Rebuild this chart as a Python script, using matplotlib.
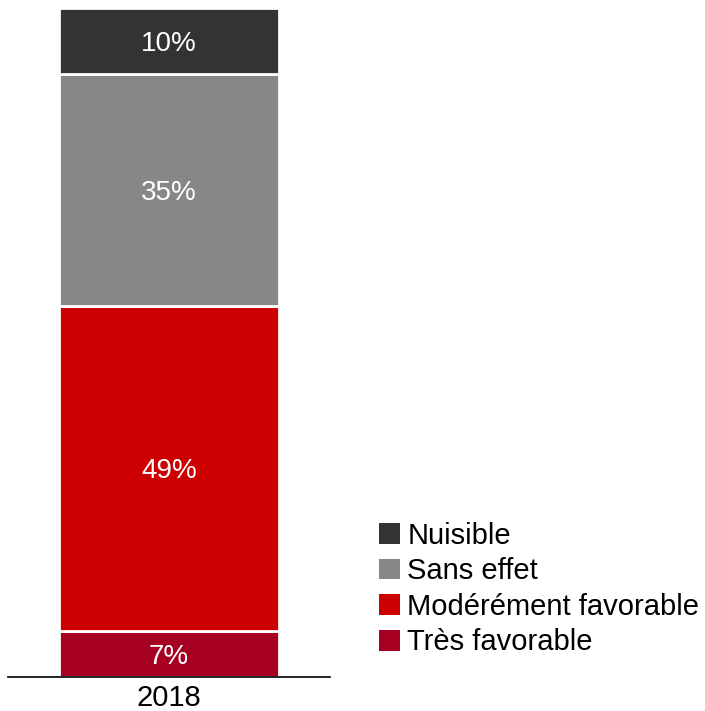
import matplotlib.pyplot as plt
from matplotlib.patches import Patch

plt.rcParams["font.family"] = ["Liberation Sans", "DejaVu Sans"]

year = "2018"
categories = ["Très favorable", "Modérément favorable", "Sans effet", "Nuisible"]
shares = [7, 49, 35, 10]
colors = ["#a50021", "#cc0000", "#878787", "#333333"]


def generate_stacked_bar(output_path: str = "out.png") -> None:
    fig = plt.figure(figsize=(7.05, 7.11), dpi=100)
    W, H = 705, 711
    ax = fig.add_axes([8 / W, (H - 677) / H, 322 / W, 669 / H])

    bottom = 0
    for label, value, color in zip(categories, shares, colors):
        ax.bar([0], [value], bottom=bottom, width=0.686, color=color,
               edgecolor="white", linewidth=2, label=label)
        ax.text(0, bottom + value / 2, f"{value}%", ha="center",
                va="center_baseline", color="white", fontsize=20)
        bottom += value

    ax.set_xlim(-0.5, 0.5)
    ax.set_ylim(0, sum(shares))
    ax.set_xticks([0])
    ax.set_xticklabels([year], fontsize=21)
    ax.tick_params(axis="x", length=0, pad=5)
    ax.set_yticks([])
    for side in ["top", "right", "left"]:
        ax.spines[side].set_visible(False)
    ax.spines["bottom"].set_linewidth(1.2)

    handles = [Patch(facecolor=c, edgecolor="none", label=l)
               for l, c in zip(categories, colors)][::-1]
    fig.legend(handles=handles, loc="center left",
               bbox_to_anchor=(379 / W, 1 - 589 / H), frameon=False,
               fontsize=21, handlelength=0.72, handleheight=0.72,
               handletextpad=0.25, labelspacing=0.26, borderpad=0,
               borderaxespad=0)

    fig.savefig(output_path, dpi=100)


if __name__ == "__main__":
    generate_stacked_bar()
